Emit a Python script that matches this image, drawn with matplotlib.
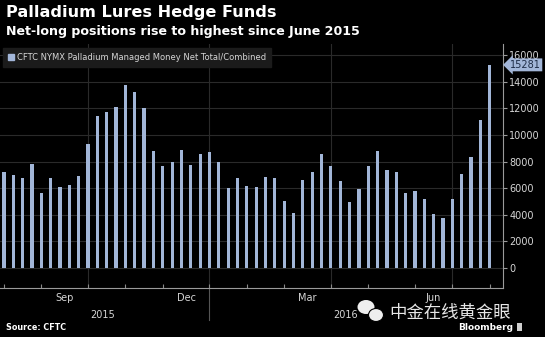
import numpy as np
import pandas as pd
import matplotlib
matplotlib.use("Agg")
import matplotlib.pyplot as plt
import matplotlib.dates as mdates
from matplotlib.patches import Patch, Ellipse, Rectangle

# Weekly CFTC report dates (Tuesdays) and net positions (contracts)
dates = pd.date_range("2015-07-28", periods=53, freq="7D")
net_long = [
    7210, 6985, 6740, 7860, 5660, 6790, 6060, 6260, 6940, 9360,
    11400, 11730, 12080, 13800, 13270, 12000, 8810, 7660, 7990, 8860,
    7740, 8580, 8730, 7990, 6010, 6740, 6190, 6060, 6820, 6790,
    5070, 4170, 6590, 7260, 8560, 7640, 6540, 4970, 5960, 7660,
    8830, 7340, 7210, 5660, 5760, 5170, 4040, 3770, 5170, 7110,
    8330, 11150, 15281,
]
series_name = "CFTC NYMX Palladium Managed Money Net Total/Combined"
y_ticks = [0, 2000, 4000, 6000, 8000, 10000, 12000, 14000, 16000]
month_labels = {9: "Sep", 12: "Dec", 3: "Mar", 6: "Jun"}

BG = "#000000"
BAR = "#a2b6d8"
GRID = "#2a2a2a"
TXT = "#d6d6d6"

fig = plt.figure(figsize=(5.45, 3.37), dpi=100)
fig.patch.set_facecolor(BG)
ax = fig.add_axes([0.0, 1 - 288 / 337, 503 / 545, (288 - 44) / 337])
ax.set_facecolor(BG)

ax.bar(dates, net_long, width=2.4, color=BAR, zorder=3)

# last report of each month -> x tick positions
month_end = [d for i, d in enumerate(dates)
             if i == len(dates) - 1 or dates[i + 1].month != d.month]

ax.set_xlim(dates[0] - pd.Timedelta(days=3), dates[-1] + pd.Timedelta(days=10))
ax.set_ylim(-1500, 16850)

ax.set_yticks(y_ticks)
ax.yaxis.tick_right()
ax.tick_params(axis="y", colors="#9a9a9a", labelcolor=TXT, labelsize=7,
               length=3, width=0.8, pad=1.5, direction="out")
ax.set_xticks(mdates.date2num(month_end))
ax.set_xticklabels([])
ax.tick_params(axis="x", colors="#8a8a8a", length=3, width=0.8, direction="in")

ax.grid(axis="y", color=GRID, linewidth=0.8, zorder=0)
for d in month_end:
    if d.month in (9, 12, 3, 6):
        ax.axvline(d, color=GRID, linewidth=0.8, zorder=0)

for side in ("top", "left"):
    ax.spines[side].set_visible(False)
for side in ("bottom", "right"):
    ax.spines[side].set_color("#9a9a9a")
    ax.spines[side].set_linewidth(0.8)

# month labels centred between month-end ticks
trans = ax.get_xaxis_transform()
ends_num = mdates.date2num(month_end)
for i, d in enumerate(month_end):
    if d.month in month_labels and i > 0:
        xm = (ends_num[i - 1] + ends_num[i]) / 2
        ax.text(xm, -0.02, month_labels[d.month], transform=trans, ha="center",
                va="top", color=TXT, fontsize=7)

year_div = [d for d in month_end if d.month == 12][0]
ax.axvline(year_div, ymin=-0.13, ymax=0, color="#555555", linewidth=0.8,
           clip_on=False)
x0 = mdates.date2num(dates[0])
xd = mdates.date2num(year_div)
xl = mdates.date2num(dates[-1])
ax.text((x0 + xd) / 2 - 3, -0.09, "2015", transform=trans, ha="center", va="top",
        color=TXT, fontsize=7)
ax.text((xd + xl) / 2 - 3, -0.09, "2016", transform=trans, ha="center", va="top",
        color=TXT, fontsize=7)

# last value tag
ax.annotate(f"{net_long[-1]}", xy=(1.0, net_long[-1]),
            xycoords=("axes fraction", "data"), xytext=(5, 0),
            textcoords="offset points", ha="left", va="center",
            fontsize=7, color="#1d2b45",
            bbox=dict(boxstyle="larrow,pad=0.15", fc=BAR, ec="none"),
            annotation_clip=False)

leg = ax.legend(handles=[Patch(color=BAR, label=series_name)], loc="upper left",
                bbox_to_anchor=(0.005, 0.985), fontsize=6, frameon=True,
                fancybox=False, handlelength=0.8, handleheight=0.8,
                handletextpad=0.3, borderpad=0.6, borderaxespad=0)
leg.get_frame().set_facecolor("#1b1b1b")
leg.get_frame().set_edgecolor("#1b1b1b")
leg.get_frame().set_alpha(1)
for t in leg.get_texts():
    t.set_color(TXT)

fig.text(6 / 545, 1 - 13 / 337, "Palladium Lures Hedge Funds", color="white",
         fontsize=11.6, fontweight="bold", va="center", ha="left")
fig.text(6 / 545, 1 - 31 / 337, "Net-long positions rise to highest since June 2015",
         color="white", fontsize=9.1, fontweight="bold", va="center", ha="left")
fig.text(6 / 545, 1 - 327 / 337, "Source: CFTC", color="white", fontsize=5.8,
         fontweight="bold", va="center", ha="left")
fig.text(513 / 545, 1 - 327 / 337, "Bloomberg", color="white", fontsize=6.5,
         fontweight="bold", va="center", ha="right")
fig.patches.append(Rectangle((517 / 545, 1 - 331 / 337), 5 / 545, 8 / 337,
                             transform=fig.transFigure, fc="#cfcfcf", ec="none"))

# watermark
fig.patches.append(Ellipse((366 / 545, 1 - 307 / 337), 17 / 545, 14 / 337,
                           transform=fig.transFigure, fc="#eeeeee", ec="none"))
fig.patches.append(Ellipse((376 / 545, 1 - 315 / 337), 15 / 545, 13 / 337,
                           transform=fig.transFigure, fc="#eeeeee", ec=BG, lw=0.8))
fig.text(450 / 545, 1 - 313 / 337, "中金在线黄金眼", color="#e6e6e6", fontsize=12.5,
         family=["Noto Sans CJK SC", "DejaVu Sans"], va="center", ha="center")

fig.savefig("out.png", dpi=100, facecolor=BG)
